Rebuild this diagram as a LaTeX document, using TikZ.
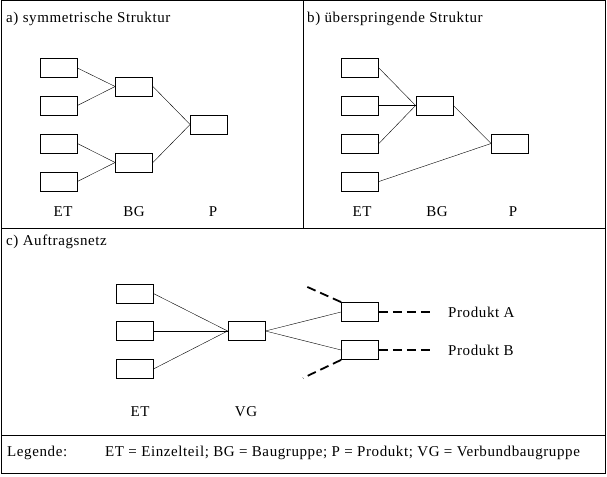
\documentclass[tikz,border=0pt]{standalone}
\usepackage{fontspec}
\setmainfont[LetterSpace=4]{Liberation Serif}
\usepackage{tikz}

\begin{document}
\begin{tikzpicture}[x=1pt,y=-1pt]
        \tikzstyle{every node} = [font=\fontsize{15}{17}\selectfont]
        \tikzstyle{box} = [rectangle, draw, line width=0.8pt, minimum width=37pt, minimum height=19pt, inner sep=0pt]
        \tikzstyle{txt} = [anchor=west, inner sep=0pt]
        \tikzstyle{thickdash} = [line width=1.8pt, dash pattern=on 9pt off 5pt]
        \useasboundingbox (0,0) rectangle (607,476);

        % frames
        \draw[line width=1pt] (1,1) rectangle (605,473);
        \draw[line width=1pt] (303,1) -- (303,228);
        \draw[line width=1pt] (1,228) -- (605,228);
        \draw[line width=1pt] (1,435) -- (605,435);

        % a) symmetrische Struktur
        \node[txt] (ta) at (6,19) {a) symmetrische Struktur};
        \foreach \y [count=\i] in {68,105.5,143.5,181.5}
            \node[box] (a\i) at (58.5,\y) {};
        \node[box] (a5) at (134,86.5) {};
        \node[box] (a6) at (134,162.5) {};
        \node[box] (a7) at (209,124.5) {};
        \foreach \from/\to in {a1/a5, a2/a5, a3/a6, a4/a6, a5/a7, a6/a7}
            \draw (\from.east) -- (\to.west);
        \node (aet) at (63,212) {ET};
        \node (abg) at (134,212) {BG};
        \node (ap) at (213,212) {P};

        % b) ueberspringende Struktur
        \node[txt] (tb) at (307,19) {b) überspringende Struktur};
        \foreach \y [count=\i] in {68,105.5,143.5,181.5}
            \node[box] (b\i) at (360,\y) {};
        \node[box] (b5) at (434.5,105.5) {};
        \node[box] (b6) at (510,143.5) {};
        \foreach \from/\to in {b1/b5, b2/b5, b3/b5, b5/b6, b4/b6}
            \draw (\from.east) -- (\to.west);
        \node (bet) at (362,212) {ET};
        \node (bbg) at (437,212) {BG};
        \node (bp) at (513,212) {P};

        % c) Auftragsnetz
        \node[txt] (tc) at (6,242) {c) Auftragsnetz};
        \foreach \y [count=\i] in {293.5,331,369}
            \node[box] (c\i) at (134.5,\y) {};
        \node[box] (c4) at (246.5,331) {};
        \node[box] (c5) at (360,312) {};
        \node[box] (c6) at (360,350) {};
        \foreach \from/\to in {c1/c4, c2/c4, c3/c4, c4/c5, c4/c6}
            \draw (\from.east) -- (\to.west);
        \coordinate (ea) at (432,312);
        \coordinate (eb) at (432,350);
        \coordinate (eu) at (303,285);
        \coordinate (el) at (303,378);
        \draw[thickdash] (c5.east) -- (ea);
        \draw[thickdash] (c6.east) -- (eb);
        \draw[thickdash] (c5.north west) -- (eu);
        \draw[thickdash] (c6.south west) -- (el);
        \node[txt] (pa) at (448,312) {Produkt A};
        \node[txt] (pb) at (448,350) {Produkt B};
        \node (cet) at (140,412) {ET};
        \node (cvg) at (246,412) {VG};

        % Legende
        \node[txt] (leg) at (7,453) {Legende:};
        \node[txt] (legtxt) at (105,453) {ET = Einzelteil; BG = Baugruppe; P = Produkt; VG = Verbundbaugruppe};
      \end{tikzpicture}
\end{document}
